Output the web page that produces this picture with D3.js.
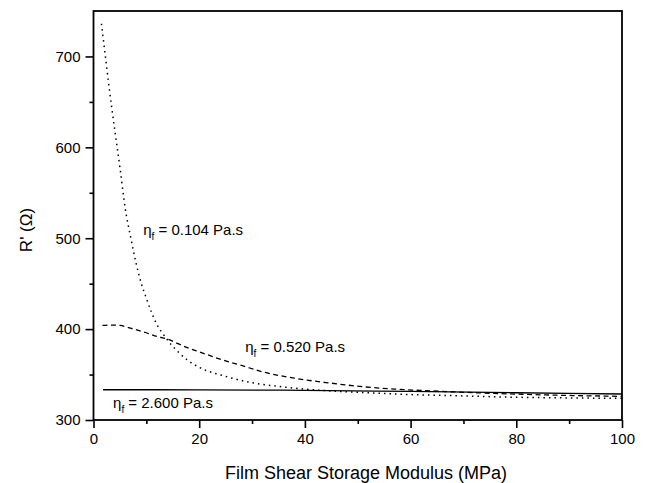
<!DOCTYPE html>
<html>
<head>
<meta charset="utf-8">
<script src="https://cdn.jsdelivr.net/npm/d3@7"></script>
<style>
  body { margin: 0; background: #fff; }
  svg { display: block; font-family: "Liberation Sans", Arial, sans-serif; }
</style>
</head>
<body>
<div class="svg-div"></div>
<script>
// values
var xMajorTicks = [0, 20, 40, 60, 80, 100];
var xMinorTicks = [10, 30, 50, 70, 90];
var yMajorTicks = [300, 400, 500, 600, 700];
var yMinorTicks = [350, 450, 550, 650];

// eta_f = 0.104 Pa.s (dotted)
var g104 = [1.5, 2, 3, 4, 5, 6, 7, 8, 9, 10, 11, 12, 13, 14, 16, 18, 20, 25, 30, 35, 40, 50, 60, 70, 80, 90, 100];
var r104 = [736, 712, 664, 620, 578, 533, 502, 474, 451, 434, 418, 405, 396, 388, 375, 365, 358, 348, 341, 337, 334, 330.5, 328, 326.5, 325, 324.3, 323.8];

// eta_f = 0.520 Pa.s (dashed)
var g520 = [1.7, 3, 5, 7, 10, 12, 14, 16, 18, 20, 25, 28, 32, 38, 45, 51, 57, 64, 70, 80, 90, 100];
var r520 = [404, 404.5, 404, 401, 396, 392, 389, 384, 379, 375, 365, 360, 353, 346, 340.5, 336.6, 334, 332, 330.5, 328.5, 327, 326];

// eta_f = 2.600 Pa.s (solid)
var g2600 = [1.8, 20, 40, 60, 80, 100];
var r2600 = [333.3, 333.2, 332.6, 331.4, 330, 328.6];

var labelText = ["0.104", "0.520", "2.600"];
var labelX = [9.4, 28.7, 3.7];
var labelY = [503.5, 375, 313];

var w = 648;
var h = 483;
var margin = {top: 11, right: 26, bottom: 63, left: 93.5};

var svg = d3.select(".svg-div")
  .append("svg")
  .attr("width", w)
  .attr("height", h);

var x = d3.scaleLinear().domain([0, 100]).range([margin.left, w - margin.right]);
var y = d3.scaleLinear().domain([300, 750]).range([h - margin.bottom, margin.top]);

// axes
function styleAxis(g) {
  g.select(".domain").remove();
  g.selectAll(".tick line").attr("stroke", "#000").attr("stroke-width", 1.6);
  g.selectAll(".tick text").attr("fill", "#000").style("font-size", "15px");
}

svg.append("g")
  .attr("transform", "translate(0," + y(300) + ")")
  .call(d3.axisBottom(x).tickValues(xMajorTicks).tickSize(8).tickPadding(5).tickFormat(d3.format("d")))
  .call(styleAxis);

svg.append("g")
  .attr("transform", "translate(0," + y(300) + ")")
  .call(d3.axisBottom(x).tickValues(xMinorTicks).tickSize(4).tickFormat(""))
  .call(styleAxis);

svg.append("g")
  .attr("transform", "translate(" + x(0) + ",0)")
  .call(d3.axisLeft(y).tickValues(yMajorTicks).tickSize(8).tickPadding(5).tickFormat(d3.format("d")))
  .call(styleAxis);

svg.append("g")
  .attr("transform", "translate(" + x(0) + ",0)")
  .call(d3.axisLeft(y).tickValues(yMinorTicks).tickSize(4).tickFormat(""))
  .call(styleAxis);

// frame
svg.append("rect")
  .attr("x", x(0))
  .attr("y", y(750))
  .attr("width", x(100) - x(0))
  .attr("height", y(300) - y(750))
  .attr("fill", "none")
  .attr("stroke", "#000")
  .attr("stroke-width", 1.8);

// curves
var line = d3.line()
  .x(function(d) { return x(d[0]); })
  .y(function(d) { return y(d[1]); })
  .curve(d3.curveMonotoneX);

var series = [
  {g: g104, r: r104, dash: "1.5,4", sw: 1.5},
  {g: g520, r: r520, dash: "5,3.5", sw: 1.3},
  {g: g2600, r: r2600, dash: null, sw: 1.3}
];

series.forEach(function(s) {
  var pts = s.g.map(function(v, i) { return [v, s.r[i]]; });
  svg.append("path")
    .datum(pts)
    .attr("d", line)
    .attr("fill", "none")
    .attr("stroke", "#000")
    .attr("stroke-width", s.sw)
    .attr("stroke-dasharray", s.dash);
});

// curve labels
labelText.forEach(function(t, i) {
  var txt = svg.append("text")
    .attr("x", x(labelX[i]))
    .attr("y", y(labelY[i]))
    .style("font-size", "15px")
    .attr("fill", "#000");
  txt.append("tspan").text("\u03b7");
  txt.append("tspan").attr("dy", 5).style("font-size", "10px").text("f");
  txt.append("tspan").attr("dy", -5).text(" = " + t + " Pa.s");
});

// axis titles
svg.append("text")
  .attr("x", 366)
  .attr("y", 479)
  .attr("text-anchor", "middle")
  .style("font-size", "18px")
  .text("Film Shear Storage Modulus (MPa)");

svg.append("text")
  .attr("transform", "translate(32,230) rotate(-90)")
  .attr("text-anchor", "middle")
  .style("font-size", "17px")
  .text("R' (\u03a9)");
</script>
</body>
</html>
